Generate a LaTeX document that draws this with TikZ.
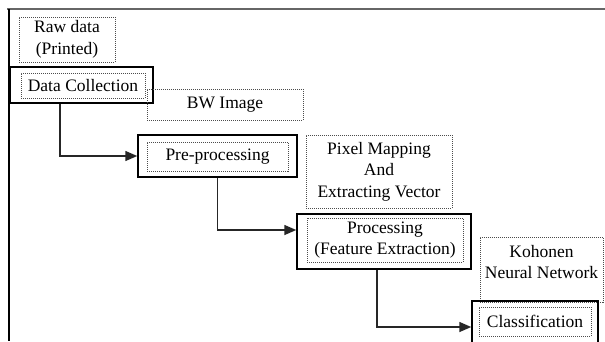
\documentclass[tikz,border=0pt]{standalone}
\usepackage{fontspec}
\setmainfont{Liberation Serif}
\usetikzlibrary{arrows.meta}

\begin{document}
\begin{tikzpicture}[x=1pt, y=-1pt,
    dotbox/.style={draw=black!70, dash pattern=on 1pt off 1pt, line width=0.8pt, inner sep=0pt, align=center, font=\fontsize{17.5}{21.5}\selectfont},
    solidbox/.style={draw=black, line width=1.5pt, inner sep=0pt},
    arr/.style={draw=black!85, line width=1.5pt, -{Triangle[length=12pt, width=10pt]}}]
    \useasboundingbox (0,0) rectangle (605,341);
    \fill[white] (0,0) rectangle (605,341);
    \draw[black!60, line width=2pt] (7,9) -- (605,9);
    \draw[black, line width=2pt] (9,9) -- (9,341);

    \node[dotbox, minimum width=96pt, minimum height=45pt] (raw) at (67,39.5) {Raw data\\(Printed)};
    \node[solidbox, minimum width=143pt, minimum height=36pt] (dcout) at (81.5,85) {};
    \node[dotbox, minimum width=124pt, minimum height=25pt] (dc) at (83,85.5) {Data Collection};
    \node[dotbox, minimum width=156pt, minimum height=31pt] (bw) at (225,104.5) {BW Image};
    \node[solidbox, minimum width=159pt, minimum height=42pt] (preout) at (217.5,156) {};
    \node[dotbox, minimum width=141pt, minimum height=29pt] (pre) at (217.5,156.5) {Pre-processing};
    \node[dotbox, minimum width=146pt, minimum height=73pt] (pix) at (379,171.5) {Pixel Mapping\\And\\Extracting Vector};
    \node[solidbox, minimum width=174pt, minimum height=55pt] (procout) at (384,241.5) {};
    \node[dotbox, minimum width=156pt, minimum height=44pt] (proc) at (385,240) {Processing\\(Feature Extraction)};
    \node[dotbox, minimum width=123pt, minimum height=65pt, text depth=15pt] (koh) at (541.5,269.5) {Kohonen\\Neural Network};
    \node[solidbox, minimum width=126pt, minimum height=44pt] (clsout) at (535,323) {};
    \node[dotbox, minimum width=112pt, minimum height=29pt] (cls) at (535,321.5) {Classification};

    \draw[arr] ([xshift=-21.5pt]dcout.south) |- (preout.west);
    \draw[arr] (preout.south) |- ([yshift=11.5pt]procout.west);
    \draw[arr] ([xshift=-7pt]procout.south) |- ([yshift=-4pt]clsout.west);
\end{tikzpicture}
\end{document}
